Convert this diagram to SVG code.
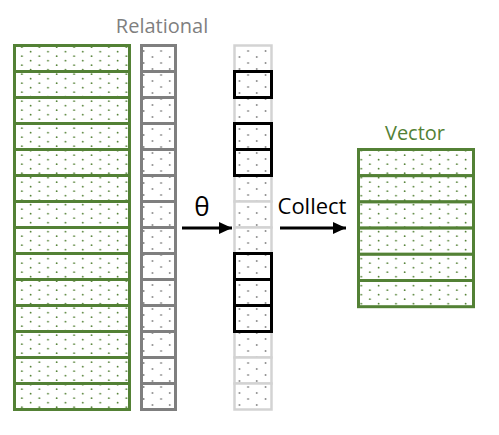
<svg xmlns="http://www.w3.org/2000/svg" width="499" height="435" viewBox="0 0 499 435">
<style>
.lbl{font-family:"Open Sans","Liberation Sans",sans-serif}
.gcell{fill:url(#dotG);stroke:#538135;stroke-width:3}
.rcell{fill:url(#dotK);stroke:#7f7f7f;stroke-width:3}
.lcell{fill:url(#dotK);stroke:#d3d3d3;stroke-width:2.5}
.bcell{fill:none;stroke:#000;stroke-width:3}
.conn{stroke:#000;stroke-width:3;fill:none;marker-end:url(#ah)}
</style>
<defs>
<pattern id="dotG" patternUnits="userSpaceOnUse" x="0" y="0" width="17.4" height="9">
<rect width="17.4" height="9" fill="#fff"/>
<circle cx="4.5" cy="2.2" r="0.9" fill="#538135"/>
<circle cx="13.2" cy="6.7" r="0.9" fill="#538135"/>
</pattern>
<pattern id="dotK" patternUnits="userSpaceOnUse" x="0" y="0" width="17.4" height="12">
<rect width="17.4" height="12" fill="#fff"/>
<circle cx="4.5" cy="3" r="0.9" fill="#808080"/>
<circle cx="13.2" cy="9" r="0.9" fill="#808080"/>
</pattern>
<marker id="ah" markerUnits="userSpaceOnUse" markerWidth="14" markerHeight="12" refX="13" refY="6" orient="auto">
<path d="M0,0 L13,6 L0,12 Z" fill="#000"/>
</marker>
</defs>
<g id="relational-label"><text class="lbl" x="162" y="33" font-size="20" fill="#7f7f7f" text-anchor="middle">Relational</text></g>
<g id="relational-table">
<rect class="gcell" x="14.5" y="45.5" width="115" height="26"/>
<rect class="gcell" x="14.5" y="71.5" width="115" height="26"/>
<rect class="gcell" x="14.5" y="97.5" width="115" height="26"/>
<rect class="gcell" x="14.5" y="123.5" width="115" height="26"/>
<rect class="gcell" x="14.5" y="149.5" width="115" height="26"/>
<rect class="gcell" x="14.5" y="175.5" width="115" height="26"/>
<rect class="gcell" x="14.5" y="201.5" width="115" height="26"/>
<rect class="gcell" x="14.5" y="227.5" width="115" height="26"/>
<rect class="gcell" x="14.5" y="253.5" width="115" height="26"/>
<rect class="gcell" x="14.5" y="279.5" width="115" height="26"/>
<rect class="gcell" x="14.5" y="305.5" width="115" height="26"/>
<rect class="gcell" x="14.5" y="331.5" width="115" height="26"/>
<rect class="gcell" x="14.5" y="357.5" width="115" height="26"/>
<rect class="gcell" x="14.5" y="383.5" width="115" height="26"/>
</g>
<g id="key-column">
<rect class="rcell" x="141.5" y="45.5" width="34" height="26"/>
<rect class="rcell" x="141.5" y="71.5" width="34" height="26"/>
<rect class="rcell" x="141.5" y="97.5" width="34" height="26"/>
<rect class="rcell" x="141.5" y="123.5" width="34" height="26"/>
<rect class="rcell" x="141.5" y="149.5" width="34" height="26"/>
<rect class="rcell" x="141.5" y="175.5" width="34" height="26"/>
<rect class="rcell" x="141.5" y="201.5" width="34" height="26"/>
<rect class="rcell" x="141.5" y="227.5" width="34" height="26"/>
<rect class="rcell" x="141.5" y="253.5" width="34" height="26"/>
<rect class="rcell" x="141.5" y="279.5" width="34" height="26"/>
<rect class="rcell" x="141.5" y="305.5" width="34" height="26"/>
<rect class="rcell" x="141.5" y="331.5" width="34" height="26"/>
<rect class="rcell" x="141.5" y="357.5" width="34" height="26"/>
<rect class="rcell" x="141.5" y="383.5" width="34" height="26"/>
</g>
<g id="filtered-column">
<rect class="lcell" x="234.5" y="45.5" width="37" height="26"/>
<rect class="lcell" x="234.5" y="71.5" width="37" height="26"/>
<rect class="lcell" x="234.5" y="97.5" width="37" height="26"/>
<rect class="lcell" x="234.5" y="123.5" width="37" height="26"/>
<rect class="lcell" x="234.5" y="149.5" width="37" height="26"/>
<rect class="lcell" x="234.5" y="175.5" width="37" height="26"/>
<rect class="lcell" x="234.5" y="201.5" width="37" height="26"/>
<rect class="lcell" x="234.5" y="227.5" width="37" height="26"/>
<rect class="lcell" x="234.5" y="253.5" width="37" height="26"/>
<rect class="lcell" x="234.5" y="279.5" width="37" height="26"/>
<rect class="lcell" x="234.5" y="305.5" width="37" height="26"/>
<rect class="lcell" x="234.5" y="331.5" width="37" height="26"/>
<rect class="lcell" x="234.5" y="357.5" width="37" height="26"/>
<rect class="lcell" x="234.5" y="383.5" width="37" height="26"/>
<rect class="bcell" x="234.5" y="71.5" width="37" height="26"/>
<rect class="bcell" x="234.5" y="123.5" width="37" height="26"/>
<rect class="bcell" x="234.5" y="149.5" width="37" height="26"/>
<rect class="bcell" x="234.5" y="253.5" width="37" height="26"/>
<rect class="bcell" x="234.5" y="279.5" width="37" height="26"/>
<rect class="bcell" x="234.5" y="305.5" width="37" height="26"/>
</g>
<g id="vector-label"><text class="lbl" x="415" y="140" font-size="20" fill="#538135" text-anchor="middle">Vector</text></g>
<g id="vector-table">
<rect class="gcell" x="358.5" y="149.5" width="115" height="26.2"/>
<rect class="gcell" x="358.5" y="175.7" width="115" height="26.2"/>
<rect class="gcell" x="358.5" y="201.9" width="115" height="26.2"/>
<rect class="gcell" x="358.5" y="228.1" width="115" height="26.2"/>
<rect class="gcell" x="358.5" y="254.3" width="115" height="26.2"/>
<rect class="gcell" x="358.5" y="280.5" width="115" height="26.2"/>
</g>
<g id="connectors">
<line class="conn" x1="182" y1="228" x2="232" y2="228"/>
<text class="lbl" x="202" y="216" font-size="26" fill="#000" text-anchor="middle">θ</text>
<line class="conn" x1="280" y1="228" x2="346" y2="228"/>
<text class="lbl" x="312" y="214" font-size="22" fill="#000" text-anchor="middle">Collect</text>
</g>
</svg>
